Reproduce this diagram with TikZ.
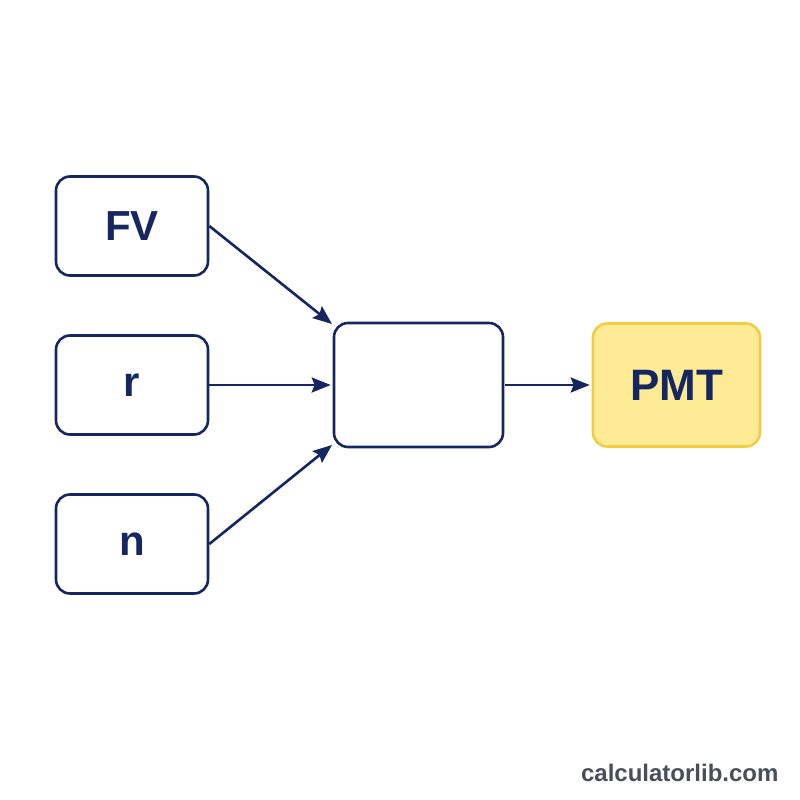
\documentclass[tikz,border=0pt]{standalone}
\usepackage{fontspec}
\setmainfont{Liberation Sans}
\usetikzlibrary{arrows.meta}
\definecolor{navy}{RGB}{22,38,96}
\definecolor{pmtfill}{RGB}{252,234,148}
\definecolor{pmtline}{RGB}{242,204,66}
\definecolor{wm}{RGB}{72,78,90}
\begin{document}
\begin{tikzpicture}[x=1pt,y=-1pt,
  inbox/.style={draw=navy,line width=2.6pt,rounded corners=14pt,minimum width=152pt,minimum height=99pt,inner sep=0pt,text=navy,font=\fontsize{42}{42}\selectfont\bfseries},
  midbox/.style={draw=navy,line width=2.6pt,rounded corners=14pt,minimum width=169pt,minimum height=124pt,inner sep=0pt},
  outbox/.style={draw=pmtline,fill=pmtfill,line width=2.6pt,rounded corners=14pt,minimum width=167pt,minimum height=123pt,inner sep=0pt,text=navy,font=\fontsize{44}{44}\selectfont\bfseries},
  conn/.style={draw=navy,line width=2.6pt,-{Stealth[length=19pt,width=15pt,inset=3pt]}}]
\useasboundingbox (0,0) rectangle (800,800);
\fill[white] (0,0) rectangle (800,800);
\node[inbox] (fv) at (132,226) {FV};
\node[inbox] (r) at (132,385) {\raisebox{-4pt}{r}};
\node[inbox] (n) at (132,544) {n};
\node[midbox] (mid) at (418.5,385) {};
\node[outbox] (pmt) at (676.5,385) {PMT};
\coordinate (t1) at (332,324);
\coordinate (t3) at (332,445);
\draw[conn] (fv.east) -- (t1);
\draw[conn] (r.east) -- ([xshift=-2pt]mid.west);
\draw[conn] (n.east) -- (t3);
\draw[conn] ([xshift=1pt]mid.east) -- ([xshift=-2pt]pmt.west);
\node[text=wm,font=\fontsize{24}{24}\selectfont\bfseries,anchor=base east] (wmark) at (782,781) {calculatorlib.com};
\end{tikzpicture}
\end{document}
